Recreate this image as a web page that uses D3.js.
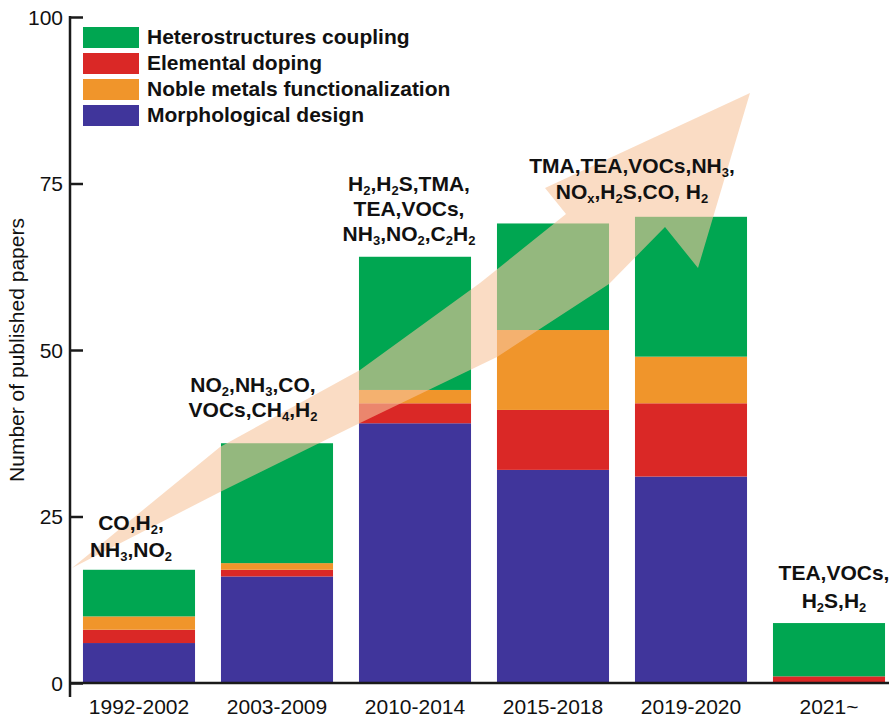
<!DOCTYPE html>
<html>
<head>
<meta charset="utf-8">
<script src="https://cdn.jsdelivr.net/npm/d3@7"></script>
<style>
  html, body { margin: 0; padding: 0; background: #fff; }
  svg { display: block; }
  text { font-family: "Liberation Sans", Arial, sans-serif; }
</style>
</head>
<body>
<svg id="chart" width="889" height="718"></svg>
<script>
// ---------------- DATA ----------------
const categories = ["1992-2002", "2003-2009", "2010-2014", "2015-2018", "2019-2020", "2021~"];
const morphologicalDesign   = [6, 16, 39, 32, 31, 0];
const elementalDoping       = [2, 1, 3, 9, 11, 1];
const nobleMetals           = [2, 1, 2, 12, 7, 0];
const heterostructures      = [7, 18, 20, 16, 21, 8];
const yTicks = [0, 25, 50, 75, 100];
const seriesNames = ["Morphological design", "Elemental doping", "Noble metals functionalization", "Heterostructures coupling"];
const legendOrder = ["Heterostructures coupling", "Elemental doping", "Noble metals functionalization", "Morphological design"];
const gasLabels = [
  ["CO,H_2,", "NH_3,NO_2"],
  ["NO_2,NH_3,CO,", "VOCs,CH_4,H_2"],
  ["H_2,H_2S,TMA,", "TEA,VOCs,", "NH_3,NO_2,C_2H_2"],
  ["TMA,TEA,VOCs,NH_3,", "NO_x,H_2S,CO, H_2"],
  ["TEA,VOCs,", "H_2S,H_2"]
];
const yTitle = "Number of published papers";

// ---------------- STYLE ----------------
const colors = {
  "Morphological design": "#40359b",
  "Elemental doping": "#da2826",
  "Noble metals functionalization": "#f0952b",
  "Heterostructures coupling": "#00a651"
};

const svg = d3.select("#chart");
const x = d3.scaleBand().domain(categories).range([70, 898]).paddingInner(0.188).paddingOuter(0.094);
const y = d3.scaleLinear().domain([0, 100]).range([683, 17]);

const table = categories.map((c, i) => ({
  cat: c,
  "Morphological design": morphologicalDesign[i],
  "Elemental doping": elementalDoping[i],
  "Noble metals functionalization": nobleMetals[i],
  "Heterostructures coupling": heterostructures[i]
}));
const stacked = d3.stack().keys(seriesNames)(table);

// bars
svg.append("g").selectAll("g").data(stacked).join("g")
  .attr("fill", d => colors[d.key])
  .selectAll("rect").data(d => d).join("rect")
  .attr("x", d => x(d.data.cat))
  .attr("width", x.bandwidth())
  .attr("y", d => y(d[1]))
  .attr("height", d => y(d[0]) - y(d[1]));

// decorative trend arrow (translucent)
const arrowPts = [
  [72, 568], [220, 447], [360, 370], [480, 283], [566, 214], [545, 188],
  [750, 93], [698, 268], [665, 227], [609, 284], [497, 357], [360, 423], [220, 492]
];
svg.append("path")
  .attr("d", "M" + arrowPts.map(p => p.join(",")).join("L") + "Z")
  .attr("fill", "#f7c49c")
  .attr("fill-opacity", 0.6);

// axes
const axisColor = "#1a1a1a";
const yAxis = svg.append("g").attr("transform", "translate(70,0)")
  .call(d3.axisRight(y).tickValues(yTicks).tickSize(13).tickFormat(""));
yAxis.select(".domain").remove();
yAxis.selectAll(".tick line").attr("stroke", axisColor).attr("stroke-width", 2.5);
svg.append("line").attr("x1", 70).attr("x2", 70).attr("y1", y(100) - 1).attr("y2", 697)
  .attr("stroke", axisColor).attr("stroke-width", 2.5);
svg.append("line").attr("x1", 69).attr("x2", 889).attr("y1", y(0)).attr("y2", y(0))
  .attr("stroke", axisColor).attr("stroke-width", 2.5);

svg.append("g").selectAll("text").data(yTicks).join("text")
  .attr("x", 63).attr("y", d => y(d) + 7.5)
  .attr("text-anchor", "end").attr("font-size", 21).attr("fill", "#111")
  .text(d => d);

svg.append("g").selectAll("text").data(categories).join("text")
  .attr("x", d => x(d) + x.bandwidth() / 2).attr("y", 714)
  .attr("text-anchor", "middle").attr("font-size", 21).attr("fill", "#111")
  .text(d => d);

svg.append("text")
  .attr("transform", "translate(24,350) rotate(-90)")
  .attr("text-anchor", "middle").attr("font-size", 21).attr("fill", "#111")
  .text(yTitle);

// legend
const lg = svg.append("g");
legendOrder.forEach((k, i) => {
  lg.append("rect").attr("x", 83).attr("y", 27 + i * 26).attr("width", 56).attr("height", 21)
    .attr("fill", colors[k]);
  lg.append("text").attr("x", 147).attr("y", 44 + i * 26)
    .attr("font-size", 21).attr("font-weight", "bold").attr("fill", "#111").text(k);
});

// gas annotations (with subscripts)
function richText(sel, str) {
  const parts = str.split(/(_\w)/).filter(s => s.length);
  let sub = false;
  parts.forEach(p => {
    if (p[0] === "_") {
      sel.append("tspan").attr("font-size", 13).attr("dy", 4).text(p.slice(1));
      sub = true;
    } else {
      sel.append("tspan").attr("dy", sub ? -4 : 0).text(p);
      sub = false;
    }
  });
}
const cx = c => x(c) + x.bandwidth() / 2;
const totals = table.map(d => seriesNames.reduce((s, k) => s + d[k], 0));
const annPlace = [
  { x: cx(categories[0]) - 8,  base: y(totals[0]) - 13, lh: 27 },
  { x: cx(categories[1]) - 24, base: y(totals[1]) - 26, lh: 25 },
  { x: cx(categories[2]) - 6,  base: y(totals[2]) - 16, lh: 25 },
  { x: (cx(categories[3]) + cx(categories[4])) / 2 + 10, base: y(totals[4]) - 18, lh: 26 },
  { x: cx(categories[5]) + 5,  base: y(totals[5]) - 15, lh: 28 }
];
gasLabels.forEach((lines, i) => {
  const pl = annPlace[i];
  const n = lines.length;
  lines.forEach((ln, j) => {
    const t = svg.append("text")
      .attr("x", pl.x).attr("y", pl.base - (n - 1 - j) * pl.lh)
      .attr("text-anchor", "middle").attr("font-size", 21).attr("font-weight", "bold")
      .attr("fill", "#111");
    richText(t, ln);
  });
});
</script>
</body>
</html>
